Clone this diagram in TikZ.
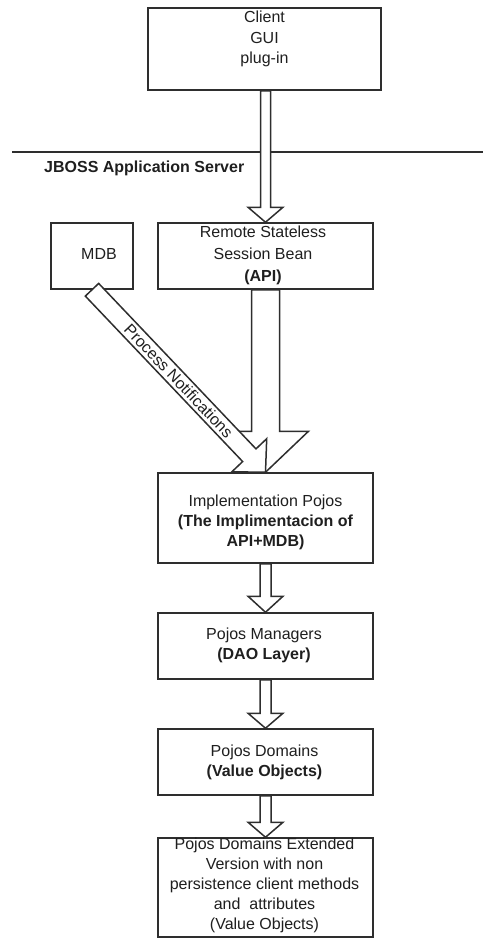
\documentclass[tikz,border=0pt]{standalone}
\usepackage{fontspec}
\setmainfont{Liberation Sans}
\usetikzlibrary{calc}

% Block arrow between two points: start, end, shaft half-width, head half-width, head length
\newcommand\blockarrow[5]{%
  \coordinate (ba-neck) at ($(#2)!#5!(#1)$);
  \draw[blockarrowline]
    ($(#1)!#3!90:(#2)$) -- ($(ba-neck)!#3!-90:(#1)$) -- ($(ba-neck)!#4!-90:(#1)$)
    -- (#2)
    -- ($(ba-neck)!#4!90:(#1)$) -- ($(ba-neck)!#3!90:(#1)$) -- ($(#1)!#3!-90:(#2)$) -- cycle;
}

\begin{document}
\begin{tikzpicture}[x=1pt,y=-1pt,
  outline/.style={draw=black!82, line width=1.5pt},
  box/.style={outline, fill=white, rectangle, inner sep=0pt},
  blockarrowline/.style={outline, fill=white, line join=miter},
  boxtext/.style={align=center, inner sep=0pt, text=black!88,
    font=\fontsize{16}{20.5}\selectfont},
]
\useasboundingbox (0,0) rectangle (483,938);

% server boundary
\coordinate (sep-l) at (12,152);
\coordinate (sep-r) at (483,152);
\draw[outline] (sep-l) -- (sep-r);
\node[boxtext, font=\bfseries\fontsize{16}{20.5}\selectfont, anchor=west] (jboss) at (44,168) {JBOSS Application Server};

% boxes
\node[box, minimum width=233pt, minimum height=82pt] (client) at (264.5,49) {};
\node[box, minimum width=82pt,  minimum height=66pt] (mdb)    at (92,256) {};
\node[box, minimum width=215pt, minimum height=66pt] (remote) at (265.5,256) {};
\node[box, minimum width=215pt, minimum height=90pt] (impl)   at (265.5,518) {};
\node[box, minimum width=215pt, minimum height=66pt] (mgr)    at (265.5,646) {};
\node[box, minimum width=215pt, minimum height=66pt] (dom)    at (265.5,762) {};
\node[box, minimum width=215pt, minimum height=99pt] (ext)    at (265.5,887.5) {};

% block arrows
\blockarrow{remote.north |- client.south}{remote.north}{5pt}{17.5pt}{15pt}
\blockarrow{remote.south}{impl.north}{14pt}{43pt}{41pt}
\blockarrow{mdb.south}{impl.north}{9.2pt}{24pt}{23.5pt}
\blockarrow{impl.south}{mgr.north}{5.5pt}{17.5pt}{16pt}
\blockarrow{mgr.south}{dom.north}{5.5pt}{17.5pt}{15pt}
\blockarrow{dom.south}{ext.north}{5.5pt}{17.5pt}{15pt}

\path (mdb.south) -- node[boxtext, sloped] (notify) {Process Notifications} (impl.north);

% box texts
\node[boxtext] (client-t) at (264.5,39) {Client\\GUI\\plug-in};
\node[boxtext] (mdb-t) at (99,254) {MDB};
\node[boxtext, font=\fontsize{16}{22}\selectfont] (remote-t) at (263,255)
  {Remote Stateless\\Session Bean\hspace*{16pt}\\\textbf{(API)}};
\node[boxtext, font=\fontsize{16}{20}\selectfont] (impl-t) at (265.5,522)
  {Implementation Pojos\\\textbf{(The Implimentacion of}\\\textbf{API+MDB)}};
\node[boxtext, font=\fontsize{16}{20}\selectfont] (mgr-t) at (264,645)
  {Pojos Managers\\\textbf{(DAO Layer)}};
\node[boxtext, font=\fontsize{16}{20}\selectfont] (dom-t) at (264.5,762)
  {Pojos Domains\\\textbf{(Value Objects)}};
\node[boxtext, font=\fontsize{16}{20}\selectfont] (ext-t) at (264.5,885)
  {Pojos Domains Extended\\Version with non\\persistence client methods\\and~~attributes\\(Value Objects)};
\end{tikzpicture}
\end{document}
